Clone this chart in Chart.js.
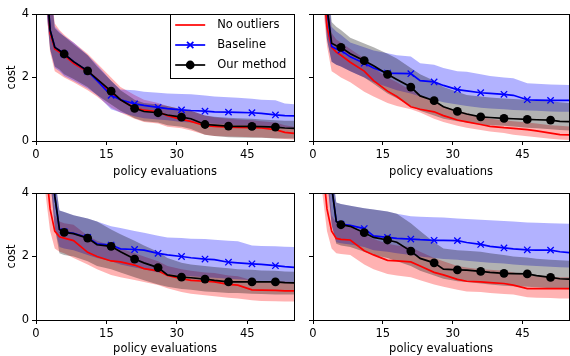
<!DOCTYPE html>
<html>
<head>
<meta charset="utf-8">
<script src="https://cdn.jsdelivr.net/npm/chart.js@4.4.0/dist/chart.umd.min.js"></script>
<style>
html, body { margin: 0; padding: 0; overflow: hidden; background: #fff; width: 570px; height: 356px; }
canvas { position: absolute; }
</style>
</head>
<body>
<canvas id="c1" width="300" height="180" style="left:0;top:0"></canvas>
<canvas id="c2" width="275" height="180" style="left:300px;top:0"></canvas>
<canvas id="c3" width="300" height="176" style="left:0;top:180px"></canvas>
<canvas id="c4" width="275" height="176" style="left:300px;top:180px"></canvas>
<script>
const evals = [1, 2, 3, 4, 5, 6, 8, 11, 13, 16, 18, 21, 23, 26, 28, 31, 33, 36, 38, 41, 43, 46, 48, 51, 53, 55];
const markEvals = [1, 6, 11, 16, 21, 26, 31, 36, 41, 46, 51];
const xTicks = [0, 15, 30, 45];
const yTicks = [0, 2, 4];
const seriesNames = ['No outliers', 'Baseline', 'Our method'];

// top left
const p1NoOut   = [8.5, 5.3, 3.4, 2.9, 2.8, 2.7, 2.45, 2.18, 1.95, 1.5, 1.3, 1.05, 0.97, 0.92, 0.8, 0.68, 0.62, 0.48, 0.46, 0.44, 0.43, 0.42, 0.41, 0.36, 0.27, 0.24];
const p1NoOutLo = [8, 4.5, 2.8, 2.2, 2.1, 2.0, 1.85, 1.6, 1.4, 1.05, 0.9, 0.7, 0.6, 0.55, 0.45, 0.4, 0.33, 0.2, 0.16, 0.14, 0.13, 0.12, 0.11, 0.09, 0.06, 0.05];
const p1NoOutHi = [10, 7, 5, 3.7, 3.5, 3.35, 3.1, 2.75, 2.45, 2.0, 1.7, 1.45, 1.3, 1.2, 1.1, 1.0, 0.95, 0.8, 0.75, 0.7, 0.68, 0.65, 0.62, 0.58, 0.5, 0.45];
const p1Base    = [9, 5.5, 3.5, 2.95, 2.85, 2.74, 2.5, 2.2, 1.9, 1.44, 1.3, 1.17, 1.12, 1.06, 1.02, 0.98, 0.96, 0.94, 0.92, 0.91, 0.9, 0.89, 0.87, 0.82, 0.8, 0.79];
const p1BaseLo  = [8, 4.5, 2.9, 2.3, 2.2, 2.05, 1.9, 1.65, 1.45, 1.0, 0.9, 0.78, 0.72, 0.68, 0.65, 0.6, 0.58, 0.55, 0.54, 0.52, 0.5, 0.5, 0.48, 0.45, 0.42, 0.4];
const p1BaseHi  = [10, 7, 5, 3.6, 3.45, 3.3, 3.1, 2.7, 2.4, 1.9, 1.62, 1.6, 1.55, 1.52, 1.5, 1.48, 1.47, 1.43, 1.4, 1.38, 1.36, 1.33, 1.3, 1.28, 1.18, 1.16];
const p1Ours    = [9, 5.5, 3.5, 2.95, 2.85, 2.74, 2.5, 2.21, 1.95, 1.57, 1.3, 1.03, 0.93, 0.89, 0.82, 0.75, 0.7, 0.52, 0.5, 0.47, 0.46, 0.46, 0.45, 0.44, 0.41, 0.4];
const p1OursLo  = [8, 4.5, 2.9, 2.35, 2.25, 2.1, 1.95, 1.7, 1.45, 1.15, 0.95, 0.72, 0.62, 0.58, 0.5, 0.45, 0.38, 0.2, 0.16, 0.12, 0.11, 0.1, 0.1, 0.08, 0.08, 0.08];
const p1OursHi  = [10, 7, 5, 3.55, 3.4, 3.3, 3.05, 2.7, 2.35, 1.9, 1.6, 1.3, 1.2, 1.15, 1.1, 1.0, 0.95, 0.8, 0.76, 0.73, 0.72, 0.7, 0.68, 0.65, 0.64, 0.64];

// top right
const p2NoOut   = [8, 5.5, 3.6, 2.95, 2.8, 2.7, 2.48, 2.2, 1.9, 1.57, 1.4, 1.08, 1.0, 0.92, 0.8, 0.66, 0.6, 0.52, 0.46, 0.42, 0.4, 0.36, 0.32, 0.25, 0.2, 0.19];
const p2NoOutLo = [7, 4.5, 3.0, 2.2, 2.1, 2.0, 1.85, 1.55, 1.4, 1.2, 1.1, 1.0, 0.9, 0.7, 0.6, 0.48, 0.42, 0.35, 0.3, 0.25, 0.2, 0.15, 0.12, 0.07, 0.05, 0.03];
const p2NoOutHi = [10, 7, 4.8, 3.4, 3.2, 3.1, 2.9, 2.6, 2.3, 2.0, 1.85, 1.6, 1.45, 1.25, 1.1, 0.95, 0.88, 0.75, 0.7, 0.65, 0.62, 0.58, 0.55, 0.5, 0.48, 0.46];
const p2Base    = [9, 6.5, 4.2, 2.98, 2.9, 2.86, 2.65, 2.45, 2.3, 2.14, 2.13, 2.12, 1.9, 1.86, 1.75, 1.62, 1.58, 1.52, 1.5, 1.47, 1.44, 1.3, 1.29, 1.28, 1.28, 1.28];
const p2BaseLo  = [8, 5, 3.2, 2.5, 2.4, 2.35, 2.2, 2.0, 1.85, 1.7, 1.6, 1.5, 1.4, 1.3, 1.22, 1.15, 1.1, 1.05, 1.02, 1.0, 0.98, 0.96, 0.95, 0.93, 0.92, 0.92];
const p2BaseHi  = [10, 8, 5.5, 3.6, 3.45, 3.35, 3.1, 2.95, 2.85, 2.76, 2.7, 2.66, 2.45, 2.4, 2.3, 2.2, 2.18, 2.1, 2.05, 2.0, 1.98, 1.82, 1.8, 1.78, 1.77, 1.76];
const p2Ours    = [9, 6.5, 4.2, 3.08, 3.0, 2.95, 2.75, 2.53, 2.37, 2.1, 1.94, 1.7, 1.42, 1.27, 1.08, 0.93, 0.85, 0.76, 0.74, 0.71, 0.7, 0.68, 0.67, 0.66, 0.62, 0.61];
const p2OursLo  = [8, 5, 3.2, 2.5, 2.4, 2.35, 2.2, 2.0, 1.8, 1.5, 1.35, 1.1, 0.95, 0.8, 0.7, 0.62, 0.58, 0.52, 0.5, 0.48, 0.46, 0.42, 0.4, 0.37, 0.35, 0.33];
const p2OursHi  = [10, 8, 5.5, 3.75, 3.6, 3.5, 3.25, 3.07, 2.95, 2.75, 2.6, 2.3, 2.1, 1.9, 1.7, 1.55, 1.45, 1.4, 1.37, 1.34, 1.32, 1.3, 1.28, 1.25, 1.22, 1.2];

// bottom left
const p3NoOut   = [8, 5, 3.5, 2.8, 2.62, 2.58, 2.5, 2.13, 2.0, 1.86, 1.83, 1.73, 1.62, 1.55, 1.4, 1.3, 1.25, 1.22, 1.2, 1.12, 1.1, 0.95, 0.94, 0.93, 0.92, 0.92];
const p3NoOutLo = [7, 4, 2.8, 2.25, 2.15, 2.1, 1.95, 1.75, 1.6, 1.42, 1.35, 1.26, 1.2, 1.1, 1.0, 0.88, 0.83, 0.78, 0.75, 0.7, 0.68, 0.62, 0.6, 0.59, 0.58, 0.58];
const p3NoOutHi = [10, 7, 5, 3.3, 3.1, 3.05, 3.0, 2.65, 2.5, 2.35, 2.25, 2.1, 2.0, 1.85, 1.7, 1.6, 1.55, 1.5, 1.48, 1.4, 1.38, 1.25, 1.23, 1.22, 1.21, 1.2];
const p3Base    = [9, 7, 5.5, 3.9, 2.85, 2.78, 2.73, 2.6, 2.4, 2.36, 2.24, 2.22, 2.2, 2.1, 2.05, 2.0, 1.96, 1.92, 1.9, 1.82, 1.8, 1.77, 1.75, 1.71, 1.68, 1.66];
const p3BaseLo  = [8, 6, 4.5, 2.9, 2.3, 2.25, 2.2, 2.05, 1.95, 1.85, 1.75, 1.65, 1.6, 1.5, 1.45, 1.4, 1.38, 1.35, 1.33, 1.3, 1.28, 1.25, 1.22, 1.2, 1.18, 1.15];
const p3BaseHi  = [10, 8, 6, 4.5, 3.45, 3.4, 3.3, 3.2, 3.1, 2.95, 2.9, 2.8, 2.75, 2.65, 2.6, 2.58, 2.56, 2.55, 2.53, 2.5, 2.48, 2.35, 2.33, 2.32, 2.31, 2.3];
const p3Ours    = [9, 7, 5.5, 3.9, 2.85, 2.76, 2.72, 2.58, 2.37, 2.32, 2.15, 1.92, 1.8, 1.65, 1.42, 1.35, 1.33, 1.29, 1.25, 1.2, 1.2, 1.2, 1.2, 1.2, 1.18, 1.17];
const p3OursLo  = [8, 6, 4.5, 2.9, 2.1, 2.05, 2.0, 1.85, 1.7, 1.6, 1.5, 1.35, 1.25, 1.12, 1.05, 0.98, 0.95, 0.9, 0.88, 0.85, 0.85, 0.83, 0.82, 0.8, 0.8, 0.8];
const p3OursHi  = [10, 8, 6, 4.5, 3.45, 3.4, 3.3, 3.2, 3.1, 2.85, 2.7, 2.5, 2.35, 2.15, 1.95, 1.8, 1.75, 1.7, 1.67, 1.63, 1.6, 1.58, 1.56, 1.55, 1.53, 1.52];

// bottom right
const p4NoOut   = [8, 5, 3.5, 2.8, 2.57, 2.54, 2.52, 2.18, 2.05, 1.88, 1.86, 1.83, 1.7, 1.5, 1.42, 1.28, 1.22, 1.2, 1.18, 1.15, 1.1, 0.99, 0.99, 0.99, 0.99, 0.99];
const p4NoOutLo = [7, 4, 2.8, 2.25, 2.1, 2.08, 2.05, 1.75, 1.6, 1.45, 1.4, 1.35, 1.25, 1.12, 1.05, 0.95, 0.9, 0.88, 0.85, 0.82, 0.8, 0.72, 0.7, 0.69, 0.68, 0.68];
const p4NoOutHi = [10, 7, 5, 3.3, 3.05, 3.0, 2.98, 2.7, 2.55, 2.4, 2.35, 2.3, 2.15, 1.95, 1.85, 1.7, 1.65, 1.6, 1.58, 1.55, 1.5, 1.4, 1.38, 1.36, 1.35, 1.35];
const p4Base    = [9, 7, 5.5, 4.2, 3.1, 3.02, 2.98, 2.88, 2.65, 2.6, 2.57, 2.55, 2.53, 2.51, 2.51, 2.5, 2.44, 2.38, 2.32, 2.27, 2.24, 2.21, 2.2, 2.2, 2.15, 2.12];
const p4BaseLo  = [8, 6, 4.5, 3.0, 2.45, 2.42, 2.38, 2.3, 2.2, 2.15, 2.1, 2.05, 2.0, 1.95, 1.92, 1.9, 1.87, 1.83, 1.8, 1.78, 1.75, 1.72, 1.7, 1.68, 1.66, 1.65];
const p4BaseHi  = [10, 8, 6, 4.8, 3.7, 3.65, 3.6, 3.52, 3.48, 3.42, 3.35, 3.27, 3.25, 3.24, 3.23, 3.2, 3.18, 3.16, 3.14, 3.12, 3.1, 3.07, 3.06, 3.05, 3.04, 3.03];
const p4Ours    = [9, 7, 5.5, 4.2, 3.1, 3.0, 2.95, 2.75, 2.6, 2.52, 2.45, 2.17, 1.94, 1.8, 1.6, 1.58, 1.57, 1.53, 1.5, 1.47, 1.46, 1.45, 1.4, 1.34, 1.3, 1.29];
const p4OursLo  = [8, 6, 4.5, 3.0, 2.4, 2.35, 2.3, 2.15, 2.05, 1.95, 1.85, 1.7, 1.55, 1.4, 1.3, 1.22, 1.2, 1.15, 1.12, 1.08, 1.06, 1.05, 1.03, 1.0, 0.98, 0.97];
const p4OursHi  = [10, 8, 6, 4.8, 3.7, 3.65, 3.6, 3.52, 3.48, 3.42, 3.35, 3.05, 2.8, 2.45, 2.25, 2.2, 2.18, 2.15, 2.1, 2.05, 2.0, 1.97, 1.93, 1.9, 1.88, 1.87];

const FONT = 'DejaVu Sans';
const colors = ['#ff0000', '#0000ff', '#000000'];
const fills = ['rgba(255,0,0,0.3)', 'rgba(0,0,255,0.3)', 'rgba(0,0,0,0.3)'];
const LINE_W = 1.7;

function pts(arr) {
  return evals.map((x, i) => ({ x: x, y: arr[i] }));
}

function markerRadius(r) {
  return ctx => (ctx.raw && markEvals.includes(ctx.raw.x)) ? r : 0;
}

const framePlugin = {
  id: 'frame',
  afterDatasetsDraw(chart) {
    const ctx = chart.ctx, a = chart.chartArea;
    ctx.save();
    ctx.strokeStyle = '#000';
    ctx.lineWidth = 1;
    ctx.strokeRect(Math.round(a.left) + 0.5, Math.round(a.top) + 0.5,
      Math.round(a.right - a.left), Math.round(a.bottom - a.top));
    ctx.restore();
  }
};

const legendPlugin = {
  id: 'boxLegend',
  afterDraw(chart) {
    const ctx = chart.ctx, a = chart.chartArea;
    const w = 124, h = 64;
    const x0 = a.right - w, y0 = a.top;
    ctx.save();
    ctx.fillStyle = '#fff';
    ctx.fillRect(x0, y0, w, h);
    ctx.strokeStyle = '#000';
    ctx.lineWidth = 1;
    ctx.strokeRect(Math.round(x0) + 0.5, Math.round(y0) + 0.5, w, h);
    ctx.font = '11.5px "' + FONT + '"';
    ctx.textBaseline = 'middle';
    seriesNames.forEach((name, i) => {
      const y = y0 + 11 + i * 20;
      ctx.strokeStyle = colors[i];
      ctx.lineWidth = LINE_W;
      ctx.beginPath();
      ctx.moveTo(x0 + 5, y);
      ctx.lineTo(x0 + 35, y);
      ctx.stroke();
      if (i === 1) {
        Chart.helpers.drawPoint(ctx, { pointStyle: 'crossRot', radius: 4.5, borderWidth: 1.3 }, x0 + 20, y);
      } else if (i === 2) {
        ctx.fillStyle = '#000';
        ctx.beginPath();
        ctx.arc(x0 + 20, y, 4.4, 0, Math.PI * 2);
        ctx.fill();
      }
      ctx.fillStyle = '#000';
      ctx.fillText(name, x0 + 47, y);
    });
    ctx.restore();
  }
};

function makePanel(id, s, isLeft, isTop, withLegend) {
  const band = (arr, order) => ({
    data: pts(arr), borderWidth: 0, pointRadius: 0, fill: false, order: order
  });
  const bandHi = (arr, target, color, order) => ({
    data: pts(arr), borderWidth: 0, pointRadius: 0, fill: target, backgroundColor: color, order: order
  });
  const line = (arr, i, order) => ({
    data: pts(arr), borderColor: colors[i], borderWidth: LINE_W, fill: false, tension: 0,
    pointStyle: i === 1 ? 'crossRot' : 'circle',
    pointRadius: i === 0 ? 0 : markerRadius(i === 1 ? 4.5 : 4.4),
    pointBorderWidth: i === 1 ? 1.3 : 0,
    pointBackgroundColor: colors[i], pointBorderColor: colors[i],
    order: order
  });
  const tickFont = { family: FONT, size: 11.5 };
  new Chart(document.getElementById(id), {
    type: 'line',
    data: {
      datasets: [
        band(s.noOutLo, 10), bandHi(s.noOutHi, 0, fills[0], 9),
        band(s.baseLo, 8), bandHi(s.baseHi, 2, fills[1], 7),
        band(s.oursLo, 6), bandHi(s.oursHi, 4, fills[2], 5),
        line(s.noOut, 0, 3), line(s.base, 1, 2), line(s.ours, 2, 1)
      ]
    },
    options: {
      responsive: false,
      animation: false,
      devicePixelRatio: 1,
      events: [],
      layout: { padding: { top: isTop ? 14 : 13, right: isLeft ? 4 : 2, left: 0, bottom: 0 } },
      plugins: { legend: { display: false }, tooltip: { enabled: false } },
      scales: {
        x: {
          type: 'linear', min: 0, max: 55,
          afterBuildTicks: sc => { sc.ticks = xTicks.map(v => ({ value: v })); },
          afterFit: sc => { sc.height = isTop ? 39 : 36; },
          grid: { display: true, drawOnChartArea: false, drawTicks: true, tickLength: 4, color: '#000' },
          border: { display: false },
          ticks: { color: '#000', font: tickFont, padding: 3, maxRotation: 0, autoSkip: false },
          title: { display: true, text: 'policy evaluations', color: '#000', font: tickFont,
                   padding: { top: isTop ? 1 : 0, bottom: isTop ? 1 : 0 } }
        },
        y: {
          min: 0, max: 4,
          afterBuildTicks: sc => { sc.ticks = yTicks.map(v => ({ value: v })); },
          afterFit: sc => { sc.width = isLeft ? 36 : 13; },
          grid: { display: true, drawOnChartArea: false, drawTicks: true, tickLength: 4, color: '#000' },
          border: { display: false },
          ticks: { display: isLeft, color: '#000', font: tickFont, padding: 3 },
          title: { display: isLeft, text: 'cost', color: '#000', font: tickFont, padding: { top: 5, bottom: 5 } }
        }
      }
    },
    plugins: withLegend ? [framePlugin, legendPlugin] : [framePlugin]
  });
}

makePanel('c1', { noOut: p1NoOut, noOutLo: p1NoOutLo, noOutHi: p1NoOutHi, base: p1Base, baseLo: p1BaseLo, baseHi: p1BaseHi, ours: p1Ours, oursLo: p1OursLo, oursHi: p1OursHi }, true, true, true);
makePanel('c2', { noOut: p2NoOut, noOutLo: p2NoOutLo, noOutHi: p2NoOutHi, base: p2Base, baseLo: p2BaseLo, baseHi: p2BaseHi, ours: p2Ours, oursLo: p2OursLo, oursHi: p2OursHi }, false, true, false);
makePanel('c3', { noOut: p3NoOut, noOutLo: p3NoOutLo, noOutHi: p3NoOutHi, base: p3Base, baseLo: p3BaseLo, baseHi: p3BaseHi, ours: p3Ours, oursLo: p3OursLo, oursHi: p3OursHi }, true, false, false);
makePanel('c4', { noOut: p4NoOut, noOutLo: p4NoOutLo, noOutHi: p4NoOutHi, base: p4Base, baseLo: p4BaseLo, baseHi: p4BaseHi, ours: p4Ours, oursLo: p4OursLo, oursHi: p4OursHi }, false, false, false);
</script>
</body>
</html>
